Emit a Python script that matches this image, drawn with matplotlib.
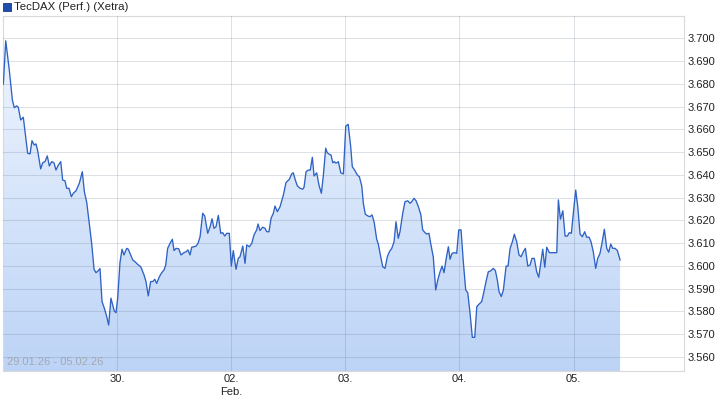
import matplotlib
matplotlib.use("Agg")
import matplotlib.pyplot as plt
import numpy as np
from matplotlib.patches import Polygon, Rectangle

plt.rcParams['font.family'] = ['Liberation Sans', 'DejaVu Sans']

# time in trading days since the 29.01. open, index level (TecDAX, thousands)
t = [0.003, 0.024, 0.055, 0.082, 0.099, 0.120, 0.134, 0.155, 0.178, 0.216,
     0.237, 0.254, 0.274, 0.289, 0.304, 0.330, 0.348, 0.368, 0.388, 0.406,
     0.427, 0.447, 0.464, 0.485, 0.506, 0.523, 0.543, 0.558, 0.578, 0.599,
     0.616, 0.640, 0.669, 0.695, 0.713, 0.734, 0.756, 0.777, 0.798, 0.815,
     0.835, 0.850, 0.868, 0.888, 0.909, 0.926, 0.946, 0.961, 0.975, 0.990,
     1.005, 1.025, 1.043, 1.060, 1.084, 1.098, 1.137, 1.157, 1.186, 1.207,
     1.236, 1.253, 1.273, 1.294, 1.312, 1.330, 1.347, 1.370, 1.391, 1.411,
     1.426, 1.443, 1.464, 1.484, 1.499, 1.516, 1.540, 1.560, 1.586, 1.604,
     1.621, 1.639, 1.654, 1.674, 1.692, 1.709, 1.727, 1.750, 1.768, 1.794,
     1.814, 1.832, 1.849, 1.867, 1.887, 1.908, 1.925, 1.943, 1.961, 1.983,
     2.001, 2.018, 2.042, 2.062, 2.077, 2.101, 2.121, 2.136, 2.159, 2.180,
     2.200, 2.223, 2.235, 2.252, 2.276, 2.296, 2.311, 2.331, 2.349, 2.369,
     2.384, 2.404, 2.428, 2.457, 2.480, 2.509, 2.530, 2.544, 2.562, 2.579,
     2.603, 2.627, 2.638, 2.656, 2.676, 2.693, 2.711, 2.726, 2.749, 2.769,
     2.790, 2.807, 2.828, 2.842, 2.860, 2.875, 2.890, 2.904, 2.918, 2.939,
     2.960, 2.983, 3.004, 3.025, 3.047, 3.061, 3.085, 3.105, 3.123, 3.144,
     3.158, 3.175, 3.199, 3.216, 3.234, 3.252, 3.275, 3.289, 3.310, 3.328,
     3.348, 3.368, 3.386, 3.407, 3.427, 3.444, 3.464, 3.479, 3.503, 3.523,
     3.547, 3.567, 3.582, 3.602, 3.620, 3.640, 3.661, 3.678, 3.698, 3.713,
     3.733, 3.748, 3.771, 3.792, 3.810, 3.830, 3.848, 3.865, 3.883, 3.903,
     3.918, 3.935, 3.955, 3.976, 3.994, 4.014, 4.034, 4.055, 4.073, 4.093,
     4.113, 4.134, 4.152, 4.174, 4.195, 4.215, 4.233, 4.253, 4.274, 4.297,
     4.315, 4.332, 4.347, 4.367, 4.385, 4.409, 4.426, 4.444, 4.464, 4.481,
     4.502, 4.522, 4.540, 4.560, 4.578, 4.599, 4.619, 4.636, 4.656, 4.677,
     4.695, 4.713, 4.730, 4.748, 4.765, 4.788, 4.823, 4.853, 4.867, 4.885,
     4.906, 4.926, 4.946, 4.963, 4.981, 4.998, 5.019, 5.037, 5.057, 5.077,
     5.098, 5.115, 5.136, 5.153, 5.173, 5.194, 5.212, 5.232, 5.250, 5.270,
     5.291, 5.308, 5.326, 5.343, 5.364, 5.384, 5.408]
perf = [3.6799, 3.6989, 3.6861, 3.6729, 3.6695, 3.6703, 3.6697, 3.6641, 3.6653, 3.6495,
        3.6492, 3.6550, 3.6531, 3.6536, 3.6506, 3.6426, 3.6453, 3.6458, 3.6483, 3.6439,
        3.6458, 3.6453, 3.6421, 3.6443, 3.6458, 3.6377, 3.6374, 3.6341, 3.6341, 3.6304,
        3.6319, 3.6330, 3.6363, 3.6414, 3.6326, 3.6278, 3.6187, 3.6099, 3.5985, 3.5970,
        3.5979, 3.5988, 3.5843, 3.5814, 3.5777, 3.5740, 3.5858, 3.5828, 3.5802, 3.5794,
        3.5858, 3.6014, 3.6073, 3.6048, 3.6077, 3.6073, 3.6026, 3.6018, 3.6004, 3.5996,
        3.5960, 3.5931, 3.5868, 3.5931, 3.5931, 3.5941, 3.5923, 3.5952, 3.5970, 3.5982,
        3.6004, 3.6077, 3.6099, 3.6117, 3.6067, 3.6077, 3.6075, 3.6048, 3.6058, 3.6062,
        3.6070, 3.6048, 3.6082, 3.6084, 3.6087, 3.6099, 3.6128, 3.6231, 3.6219, 3.6143,
        3.6170, 3.6207, 3.6165, 3.6172, 3.6222, 3.6143, 3.6146, 3.6131, 3.6143, 3.6143,
        3.5999, 3.6067, 3.5985, 3.6033, 3.6040, 3.6087, 3.6011, 3.6092, 3.6084, 3.6099,
        3.6136, 3.6158, 3.6184, 3.6155, 3.6170, 3.6165, 3.6150, 3.6150, 3.6209, 3.6231,
        3.6263, 3.6238, 3.6260, 3.6311, 3.6366, 3.6380, 3.6404, 3.6409, 3.6377, 3.6352,
        3.6341, 3.6337, 3.6345, 3.6414, 3.6421, 3.6421, 3.6477, 3.6395, 3.6409, 3.6355,
        3.6319, 3.6395, 3.6517, 3.6497, 3.6490, 3.6487, 3.6453, 3.6458, 3.6451, 3.6458,
        3.6409, 3.6404, 3.6614, 3.6622, 3.6524, 3.6436, 3.6418, 3.6399, 3.6392, 3.6351,
        3.6275, 3.6227, 3.6219, 3.6216, 3.6224, 3.6194, 3.6117, 3.6096, 3.6040, 3.5996,
        3.5989, 3.6040, 3.6062, 3.6077, 3.6106, 3.6194, 3.6121, 3.6150, 3.6231, 3.6282,
        3.6286, 3.6275, 3.6282, 3.6297, 3.6286, 3.6260, 3.6227, 3.6158, 3.6146, 3.6140,
        3.6143, 3.6099, 3.6038, 3.5894, 3.5938, 3.5974, 3.5999, 3.5970, 3.6029, 3.6084,
        3.6029, 3.6055, 3.6058, 3.6055, 3.6158, 3.6158, 3.6018, 3.5894, 3.5882, 3.5792,
        3.5686, 3.5686, 3.5821, 3.5833, 3.5843, 3.5887, 3.5931, 3.5974, 3.5978, 3.5989,
        3.5979, 3.5938, 3.5887, 3.5865, 3.5894, 3.5999, 3.5999, 3.6077, 3.6106, 3.6139,
        3.6106, 3.6048, 3.6040, 3.6062, 3.6077, 3.5999, 3.6004, 3.6033, 3.6033, 3.5974,
        3.5950, 3.6014, 3.6073, 3.5994, 3.6082, 3.6058, 3.6058, 3.6058, 3.6290, 3.6205,
        3.6242, 3.6131, 3.6131, 3.6146, 3.6143, 3.6231, 3.6333, 3.6260, 3.6140, 3.6128,
        3.6150, 3.6126, 3.6126, 3.6106, 3.6062, 3.5989, 3.6033, 3.6055, 3.6102, 3.6161,
        3.6077, 3.6060, 3.6096, 3.6077, 3.6077, 3.6067, 3.6026]

day_ticks = [1, 2, 3, 4, 5]
day_labels = ["30.", "02.\nFeb.", "03.", "04.", "05."]
y_ticks = [3.56, 3.57, 3.58, 3.59, 3.60, 3.61, 3.62, 3.63, 3.64, 3.65, 3.66, 3.67, 3.68, 3.69, 3.70]
title = "TecDAX (Perf.) (Xetra)"
period = "29.01.26 - 05.02.26"

line_col = "#2e62c4"
grid_col = "#d9d9d9"

fig = plt.figure(figsize=(7.26, 4.05), dpi=100)
ax = fig.add_axes([3 / 726, 34 / 405, 681 / 726, 355 / 405])
x_lo, x_hi = 0, 5.968
y_lo, y_hi = 3.5538, 3.7098
ax.set_xlim(x_lo, x_hi)
ax.set_ylim(y_lo, y_hi)

# gradient area under the line
verts = np.column_stack([np.r_[t[0], t, t[-1]], np.r_[y_lo, perf, y_lo]])
clip = Polygon(verts, closed=True, facecolor="none", edgecolor="none")
ax.add_patch(clip)
top = np.array([0.95, 0.97, 1.0])
bot = np.array([0.74, 0.83, 0.965])
k = np.linspace(0, 1, 256)[:, None, None]
grad = top * (1 - k) + bot * k
img = ax.imshow(grad, extent=[x_lo, x_hi, y_lo, y_hi], origin="upper",
                aspect="auto", zorder=1)
img.set_clip_path(clip)

ax.plot(t, perf, color=line_col, linewidth=0.95, zorder=3)

ax.set_xticks(day_ticks)
ax.set_xticklabels(day_labels)
ax.set_yticks(y_ticks)
ax.set_yticklabels(["{:.3f}".format(v) for v in y_ticks])
ax.yaxis.tick_right()
ax.tick_params(axis="both", length=0, labelsize=8, colors="#222222")
ax.tick_params(axis="y", pad=2.5)
ax.tick_params(axis="x", pad=2)
for lab in ax.get_xticklabels():
    lab.set_linespacing(1.35)

ax.grid(True, color="#5a6a80", alpha=0.2, linewidth=0.75, zorder=2)
ax.set_axisbelow(False)
for s in ax.spines.values():
    s.set_color(grid_col)
    s.set_linewidth(0.8)

ax.text(0.006, 0.012, period, transform=ax.transAxes, fontsize=8,
        color="#a2a8b2", ha="left", va="bottom", zorder=4)

fig.patches.append(Rectangle((3 / 726, 1 - 11 / 405), 8 / 726, 8 / 405,
                             transform=fig.transFigure, facecolor="#1f4fae",
                             edgecolor="#17397d", linewidth=0.6))
fig.text(14 / 726, 1 - 6.5 / 405, title, fontsize=8.2, color="#222222",
         ha="left", va="center")

fig.savefig("out.png", dpi=100)
